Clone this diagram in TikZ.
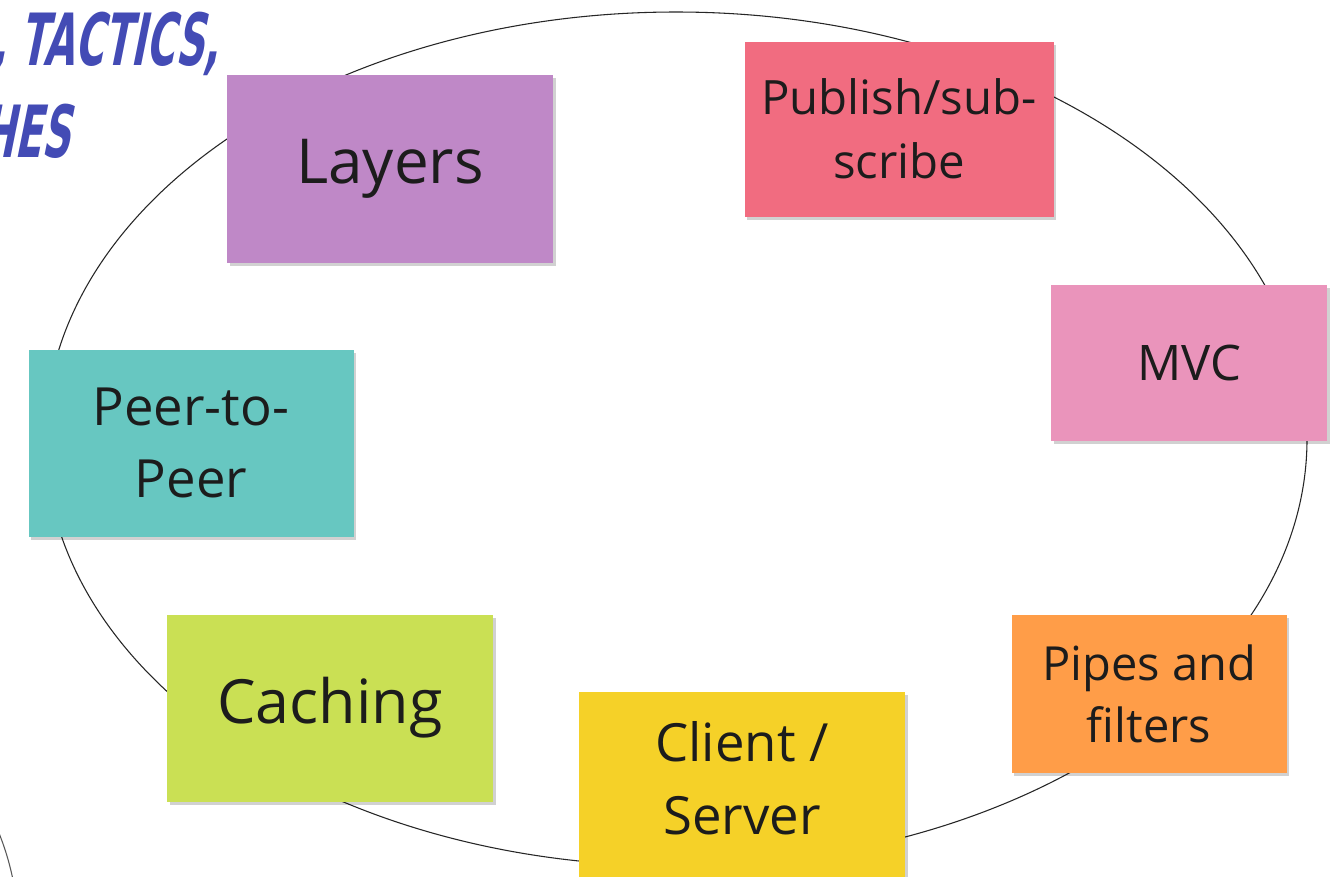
\documentclass[tikz,border=0pt]{standalone}
\usepackage{fontspec}
\usetikzlibrary{shadows}
\newfontfamily\notefont{Open Sans}
\newfontfamily\titlefont[FakeSlant=0.2,FakeStretch=0.55]{DejaVu Sans}
\definecolor{titleblue}{RGB}{67,75,181}
\definecolor{notepurple}{RGB}{191,136,199}
\definecolor{notered}{RGB}{241,108,128}
\definecolor{notepink}{RGB}{234,148,187}
\definecolor{noteteal}{RGB}{103,199,193}
\definecolor{notelime}{RGB}{202,224,84}
\definecolor{noteyellow}{RGB}{245,209,40}
\definecolor{noteorange}{RGB}{255,157,72}
\definecolor{inkdark}{RGB}{28,28,28}
\def\px{0.75pt}
\tikzset{
  sticky/.style={draw=none, inner sep=0pt, align=center, text=inkdark,
    font=\notefont,
    drop shadow={shadow xshift=2pt, shadow yshift=-2.5pt, opacity=0.18, fill=black}},
  ring/.style={draw=black!85, line width=0.8pt},
  headline/.style={inner sep=0pt, text=titleblue, anchor=base east,
    font=\titlefont\bfseries\fontsize{54}{60}\selectfont}
}
\begin{document}
\begin{tikzpicture}[x=0.75pt, y=-0.75pt]
\useasboundingbox (0,0) rectangle (1333,876);
\clip (0,0) rectangle (1333,876);
\fill[white] (0,0) rectangle (1333,876);

% heading, running off the left edge
\node[headline] (head1) at (219,65) {C, TACTICS,};
\node[headline] (head2) at (70,157) {HES};

% edge of a neighbouring shape at the bottom left
\draw[draw=black!65, line width=0.8pt] (-4,826) .. controls (3,842) and (9,860) .. (13,880);

% the ring that groups the notes
\draw[ring] (676,439) ellipse [x radius=631, y radius=427];

% the notes
\node[sticky, fill=notepurple, minimum width=326*\px, minimum height=188*\px,
  font=\notefont\fontsize{46.5}{62}\selectfont] (layers) at (390,169) {Layers};
\node[sticky, fill=notered, minimum width=309*\px, minimum height=175*\px,
  font=\notefont\fontsize{35.5}{48}\selectfont] (pubsub) at (899,129) {Publish/sub-\\scribe};
\node[sticky, fill=notepink, minimum width=276*\px, minimum height=156*\px,
  font=\notefont\fontsize{36.75}{49}\selectfont] (mvc) at (1189,363) {MVC};
\node[sticky, fill=noteteal, minimum width=325*\px, minimum height=187*\px,
  font=\notefont\fontsize{39.5}{54}\selectfont] (p2p) at (191,443) {Peer-to-\\Peer};
\node[sticky, fill=notelime, minimum width=326*\px, minimum height=187*\px,
  font=\notefont\fontsize{45.75}{61}\selectfont] (caching) at (330,708) {Caching};
\node[sticky, fill=noteyellow, minimum width=326*\px, minimum height=188*\px,
  font=\notefont\fontsize{39.5}{54.75}\selectfont] (clientserver) at (742,786)
  {Client /\\Server\rule[-12pt]{0pt}{12pt}};
\node[sticky, fill=noteorange, minimum width=275*\px, minimum height=158*\px,
  font=\notefont\fontsize{35.25}{46.5}\selectfont] (pipes) at (1149,694) {Pipes and\\filters};
\end{tikzpicture}
\end{document}
